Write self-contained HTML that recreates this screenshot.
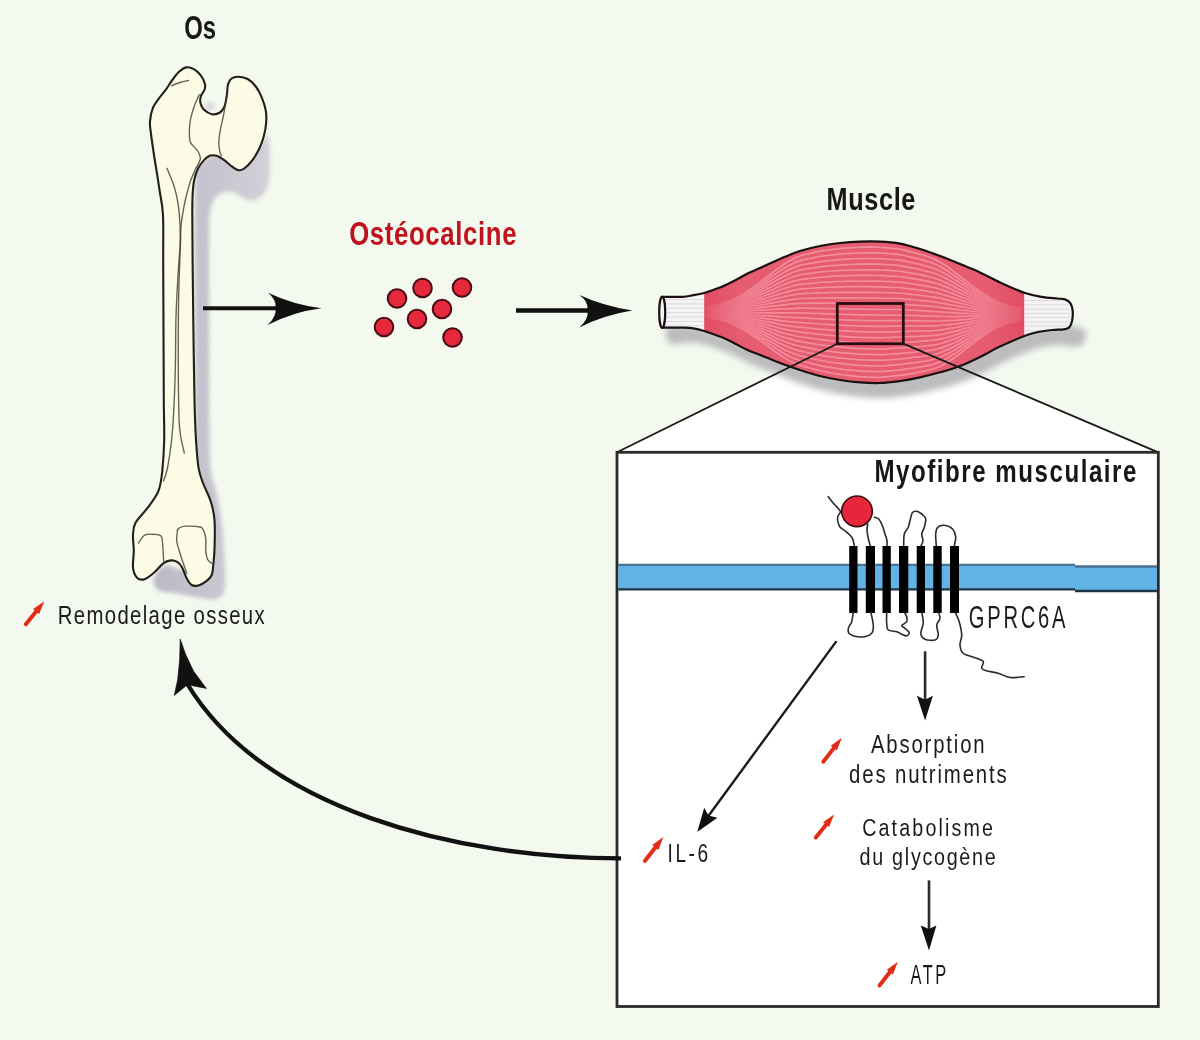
<!DOCTYPE html>
<html><head><meta charset="utf-8"><style>
html,body{margin:0;padding:0;background:#f3f9ee;}
svg{display:block;}
text{font-family:"Liberation Sans",sans-serif;}
</style></head><body>
<svg width="1200" height="1040" viewBox="0 0 1200 1040">
<rect width="1200" height="1040" fill="#f3f9ee"/>
<defs><filter id="blur2" x="-20%" y="-20%" width="140%" height="140%"><feGaussianBlur stdDeviation="2.2"/></filter><filter id="blur3" x="-20%" y="-50%" width="140%" height="200%"><feGaussianBlur stdDeviation="3"/></filter></defs>
<linearGradient id="shg" x1="0" x2="1" y1="0" y2="0"><stop offset="0" stop-color="#bcb9c6"/><stop offset="1" stop-color="#d2d0d8"/></linearGradient>
<path d="M222,152 C230.3,149.5 243.3,151.7 250,150 C256.7,148.3 259,144.7 262,142 C265,139.3 266.8,133.5 268,134 C269.2,134.5 269.2,140.3 269.5,145 C269.8,149.7 269.8,156.2 269.8,162 C269.8,167.8 269.9,175.3 269.3,180 C268.7,184.7 267.4,187.2 266,190 C264.6,192.8 263,194.8 261,196.5 C259,198.2 256.5,200 254,200.5 C251.5,201 248.7,200.5 246,199.5 C243.3,198.5 240.8,195.8 238,194.5 C235.2,193.2 232,191.6 229,191.5 C226,191.4 222.7,192.2 220,194 C217.3,195.8 214.8,198.2 213,202 C211.2,205.8 210.2,210.7 209.5,217 C208.8,223.3 209.1,226.2 209,240 C208.9,253.8 208.9,268.3 209,300 C209.1,331.7 209.2,401.7 209.5,430 C209.8,458.3 209.8,459.2 211,470 C212.2,480.8 215.2,485.8 217,495 C218.8,504.2 220.8,514.2 222,525 C223.2,535.8 224.1,549.2 224.5,560 C224.9,570.8 225.9,583.5 224.5,590 C223.1,596.5 220.1,597.7 216,599 C211.9,600.3 206.8,599 200,598 C193.2,597 182,594.3 175,593 C168,591.7 161.5,592.5 158,590 C154.5,587.5 152.8,582.2 154,578 C155.2,573.8 159,568 165,565 C171,562 185,580.8 190,560 C195,539.2 194.2,500 195,440 C195.8,380 194.2,245.8 195,200 C195.8,154.2 195.5,173 200,165 C204.5,157 213.7,154.5 222,152 Z" fill="url(#shg)" filter="url(#blur2)"/>
<ellipse cx="209.5" cy="106" rx="5" ry="4" fill="#d6d4dc" filter="url(#blur2)"/>
<path d="M186.2,67.4 C188.8,66.9 191.4,67.9 193.8,69.2 C196.2,70.5 198.9,72.9 200.8,75.4 C202.7,77.9 204.4,81.8 205,84.2 C205.6,86.6 205.1,88.1 204.4,90 C203.7,91.9 201.7,93.7 201,95.8 C200.3,97.9 199.9,100.4 200.4,102.7 C200.9,105 201.9,107.7 203.8,109.6 C205.7,111.5 209.2,113.7 211.9,114.2 C214.6,114.7 217.9,113.8 220,112.5 C222.1,111.2 223.4,109.2 224.6,106.2 C225.8,103.2 226.3,98.3 226.9,94.6 C227.5,90.9 227.2,86.9 228,84.2 C228.8,81.5 229.8,79.8 231.5,78.5 C233.2,77.2 235.8,76.6 238.5,76.7 C241.2,76.8 244.8,77.4 247.7,79 C250.6,80.6 253.5,83.5 255.8,86.5 C258.1,89.5 259.9,93.1 261.5,96.9 C263.1,100.8 264.8,105.4 265.6,109.6 C266.4,113.8 266.5,117.9 266.2,122.3 C265.9,126.7 265,131.8 263.8,136.2 C262.6,140.6 261.1,144.8 259.2,148.8 C257.3,152.8 254.8,157.1 252.3,160.4 C249.8,163.7 246.5,166.9 244.2,168.5 C241.9,170.1 240.6,170.6 238.5,170.2 C236.4,169.8 233.8,167.8 231.5,166.2 C229.2,164.6 227.1,162.1 224.6,160.4 C222.1,158.7 219,156.6 216.5,155.8 C214,155 211.7,155 209.6,155.8 C207.5,156.6 205.7,158.3 203.8,160.4 C201.9,162.5 199.6,165.2 198,168.5 C196.4,171.8 195.1,175.6 194.2,180 C193.3,184.4 192.9,189.2 192.6,195 C192.3,200.8 192.3,204.2 192.3,215 C192.3,225.8 192.4,240.8 192.6,260 C192.8,279.2 193.1,306.7 193.4,330 C193.7,353.3 194.1,381.7 194.5,400 C194.9,418.3 195.3,428.7 196,440 C196.7,451.3 197.3,460.5 198.5,467.7 C199.7,474.9 200.9,477.4 203,483 C205.1,488.6 208.9,495.3 210.8,501.5 C212.7,507.7 213.9,512.5 214.5,520 C215.1,527.5 214.8,539.2 214.6,546.7 C214.4,554.2 213.8,560.3 213.3,565 C212.8,569.7 212.8,572.4 211.7,575 C210.6,577.6 208.9,579.1 206.7,580.8 C204.5,582.5 200.8,584.7 198.3,585.4 C195.8,586.1 193.6,586.2 191.7,585 C189.8,583.8 188.4,581.3 186.7,578.3 C185,575.2 183.4,569.5 181.7,566.7 C180,563.9 178.5,562.8 176.7,561.7 C174.9,560.7 173,560.1 170.8,560.4 C168.6,560.7 166.1,561.3 163.3,563.3 C160.5,565.3 157.3,569.9 154.2,572.5 C151.1,575.1 147.5,578.3 144.6,579.2 C141.7,580.1 138.9,579.6 137,577.7 C135.1,575.8 133.5,572.2 133,567.7 C132.5,563.2 133.8,556.2 133.8,550.8 C133.8,545.4 132.7,540 133,535.4 C133.3,530.8 133,527.6 135.4,523 C137.8,518.4 143.8,513.1 147.7,507.7 C151.5,502.3 156.1,496.9 158.5,490.8 C160.9,484.7 161.4,479.3 162.3,470.8 C163.2,462.3 163.9,451.8 164.2,440 C164.4,428.2 163.9,418.3 163.8,400 C163.7,381.7 163.6,353.3 163.5,330 C163.4,306.7 163.3,279.2 163.2,260 C163.1,240.8 163.6,226.7 163,215 C162.4,203.3 160.4,196.2 159.5,190 C158.6,183.8 158.6,183.8 157.7,178 C156.8,172.2 155.1,162.3 154,155 C152.9,147.7 151.7,139.6 151,134 C150.3,128.4 149.7,125.9 150,121.5 C150.3,117.1 151.3,111.8 153,107.7 C154.7,103.6 157.8,100.1 160,97 C162.2,93.9 164.1,92 166.2,89.2 C168.2,86.4 170.2,82.8 172.3,80 C174.4,77.2 176.2,74.4 178.5,72.3 C180.8,70.2 183.6,67.9 186.2,67.4 Z" fill="#fbfbe6" stroke="#222018" stroke-width="2.1" stroke-linejoin="round"/>
<path d="M171.5,85.8 C172.9,85.2 177.2,83.4 180,82.5 C182.8,81.6 187.1,80.8 188.5,80.5" fill="none" stroke="#3c3b2e" stroke-width="1.35" stroke-linecap="round" opacity="0.8"/>
<path d="M199.2,94.6 C198.2,96.9 195,103.9 193.5,108.5 C192,113.1 190.6,116.9 190,122.3 C189.4,127.7 189.2,136.8 190,141 C190.8,145.2 193.1,145.3 194.6,147.3 C196.1,149.3 197.9,150.9 198.8,153 C199.7,155.1 200.8,156.9 200.2,159.6 C199.6,162.3 197,165.7 195.4,169.2 C193.8,172.7 192.2,176 190.6,180.8 C189,185.6 187.1,192.7 185.8,198 C184.5,203.3 183.7,207.7 182.9,212.5 C182.1,217.3 181.4,221.4 181,227 C180.6,232.6 180.6,240.3 180.4,246 C180.2,251.7 180.1,251.8 179.8,261 C179.5,270.2 178.8,282.8 178.6,301 C178.3,319.2 178.2,351.2 178.3,370 C178.4,388.8 178.6,403.3 178.9,414 C179.2,424.7 179.4,427.5 180.3,434 C181.2,440.5 183.6,449.8 184.3,453" fill="none" stroke="#3c3b2e" stroke-width="1.35" stroke-linecap="round" opacity="0.8"/>
<path d="M226.9,94.6 C226.3,98.1 224.7,109.2 223.5,115.4 C222.3,121.6 220.8,126.9 220,131.5 C219.2,136.1 218.8,139.5 218.8,143 C218.8,146.5 219.5,150.2 220,152.3 C220.5,154.4 221.4,155.2 221.7,155.8" fill="none" stroke="#3c3b2e" stroke-width="1.35" stroke-linecap="round" opacity="0.8"/>
<path d="M167,168.3 C168.2,171.3 172.3,180.6 174.2,186.5 C176,192.4 177.1,197.7 178.1,203.8 C179.1,209.9 179.6,216 179.9,223 C180.2,230 180.3,239.7 180.1,246 C179.9,252.3 179.4,253.7 178.9,261 C178.4,268.3 177.7,280.2 177.2,290 C176.7,299.8 176.2,306.7 175.9,320 C175.6,333.3 175.7,354.3 175.3,370 C174.9,385.7 174.2,402.2 173.6,414 C173,425.8 172.5,432 171.5,441 C170.5,450 168.8,461.3 167.5,468 C166.2,474.7 164.2,478.8 163.5,481" fill="none" stroke="#3c3b2e" stroke-width="1.35" stroke-linecap="round" opacity="0.8"/>
<path d="M138.5,543 C139.4,541.8 141.9,537 144.2,535.5 C146.5,534 149.7,534.2 152.5,534.2 C155.3,534.2 159.1,534.4 160.8,535.8 C162.5,537.2 162.1,539.3 162.5,542.5 C162.9,545.7 163.1,551.8 163.3,555 C163.5,558.2 163.7,560.6 163.8,561.7" fill="none" stroke="#3c3b2e" stroke-width="1.35" stroke-linecap="round" opacity="0.8"/>
<path d="M177.5,530 C177.9,529.6 178.6,528.1 180,527.5 C181.4,526.9 182.9,526.3 186.2,526.2 C189.5,526.1 197.2,526.4 200,527 C202.8,527.6 202.3,528.1 203.3,530 C204.3,531.9 205.4,534.8 205.8,538.3 C206.2,541.8 205.5,547.3 205.8,550.8 C206.1,554.3 206.5,557.1 207.5,559.2 C208.5,561.3 211,562.6 211.7,563.3" fill="none" stroke="#3c3b2e" stroke-width="1.35" stroke-linecap="round" opacity="0.8"/>
<path d="M177.5,530 C177.4,531.8 176.3,536.9 176.7,540.8 C177.1,544.7 178.9,549.5 180,553.3 C181.1,557 182.2,560 183.3,563.3 C184.4,566.6 186.1,571.6 186.7,573.3" fill="none" stroke="#3c3b2e" stroke-width="1.35" stroke-linecap="round" opacity="0.8"/>
<line x1="203" y1="308.3" x2="276" y2="308.3" stroke="#111" stroke-width="4"/>
<path d="M321.5,308.2 Q293,304.6 268,292.7 Q277,300 275.5,308.2 Q277,316 267.6,325 Q293,311.8 321.5,308.2Z" fill="#111"/>
<line x1="516" y1="310.6" x2="588" y2="310.6" stroke="#111" stroke-width="4.5"/>
<path d="M632.5,310.6 Q604,306.2 579.4,295 Q589,302 587.5,310.6 Q589,319 579.4,327.5 Q604,315 632.5,310.6Z" fill="#111"/>
<circle cx="397" cy="298.5" r="9.3" fill="#e6283c" stroke="#4a0a12" stroke-width="2"/>
<circle cx="422.5" cy="288" r="9.3" fill="#e6283c" stroke="#4a0a12" stroke-width="2"/>
<circle cx="462" cy="287.5" r="9.3" fill="#e6283c" stroke="#4a0a12" stroke-width="2"/>
<circle cx="442" cy="309" r="9.3" fill="#e6283c" stroke="#4a0a12" stroke-width="2"/>
<circle cx="417" cy="319" r="9.3" fill="#e6283c" stroke="#4a0a12" stroke-width="2"/>
<circle cx="384" cy="327" r="9.3" fill="#e6283c" stroke="#4a0a12" stroke-width="2"/>
<circle cx="452.5" cy="337.5" r="9.3" fill="#e6283c" stroke="#4a0a12" stroke-width="2"/>
<path d="M837.3,343.7 L903.3,343.7 L1158.3,452.3 L617,452.3 Z" fill="#ffffff"/>
<path d="M1086,336 C1085.3,338.7 1084.8,344.5 1080,346 C1075.2,347.5 1063.2,344.8 1057,345 C1050.8,345.2 1047.5,346 1043,347 C1038.5,348 1036.3,348.4 1030,350.8 C1023.7,353.2 1012.5,358 1005,361.5 C997.5,365 991.7,368.8 985,372 C978.3,375.2 971.7,378.4 965,381 C958.3,383.6 951.7,385.4 945,387.3 C938.3,389.2 931.7,390.9 925,392.3 C918.3,393.8 911.7,395.1 905,396 C898.3,396.9 891.7,397.8 885,398 C878.3,398.2 871.7,397.9 865,397.4 C858.3,396.9 851.7,396.1 845,395 C838.3,393.9 831.7,392.7 825,391 C818.3,389.3 811.7,387.2 805,385 C798.3,382.8 790.1,379.9 785,378 C779.9,376.1 777.8,375.1 774.2,373.6 C770.6,372.2 766.9,370.7 763.3,369.3 C759.7,367.9 756.1,366.6 752.5,365 C748.9,363.4 745.3,361.3 741.7,359.5 C738.1,357.7 734.4,355.7 730.8,354.1 C727.2,352.5 723.6,351.2 720,349.8 C716.4,348.4 712.8,347.1 709.2,346 C705.6,344.9 701.9,343.9 698.3,343.3 C694.7,342.8 691.9,342.6 687.5,342.7 C683.1,342.8 675.6,345.1 672,344 C668.4,342.9 666.3,339 666,336 C665.7,333 664.3,327.3 670,326 C675.7,324.7 685,324 700,328 C715,332 733.3,341.7 760,350 C786.7,358.3 826.7,376.3 860,378 C893.3,379.7 932.5,367.7 960,360 C987.5,352.3 1006.7,337.7 1025,332 C1043.3,326.3 1060.2,326.3 1070,326 C1079.8,325.7 1081.3,328.3 1084,330 C1086.7,331.7 1086.7,333.3 1086,336 Z" fill="#bcbcbf" filter="url(#blur3)"/>
<clipPath id="mclip"><path d="M662,296.8 C665.4,296.8 677.3,297.1 682.5,296.8 C687.7,296.5 689.7,295.8 693.3,295.2 C696.9,294.6 700.6,294 704.2,293 C707.8,292 711.4,290.7 715,289.3 C718.6,287.9 722.2,286.5 725.8,284.9 C729.4,283.3 733.1,281.4 736.7,279.5 C740.3,277.6 743.6,275.4 747.5,273.5 C751.4,271.6 754.6,270.4 760,268 C765.4,265.6 773.3,261.8 780,259 C786.7,256.2 793.3,253.2 800,251 C806.7,248.8 813.3,247.3 820,246 C826.7,244.7 833.3,243.7 840,243 C846.7,242.3 853.3,241.8 860,241.6 C866.7,241.4 873.3,241.3 880,241.6 C886.7,241.9 893.3,242.4 900,243.6 C906.7,244.8 913.3,246.9 920,249 C926.7,251.1 933.3,253.5 940,256 C946.7,258.5 953.3,261.2 960,264 C966.7,266.8 972.8,269.2 980,272.5 C987.2,275.8 995.8,280.6 1003.3,284 C1010.8,287.4 1018.7,290.9 1025,293 C1031.3,295.1 1035.9,295.9 1041.3,296.8 C1046.7,297.7 1053.5,298.1 1057.5,298.5 C1061.5,298.9 1062.8,298.6 1065,299.4 C1067.2,300.2 1069.2,301.4 1070.5,303.3 C1071.8,305.2 1072.4,308.1 1072.7,311 C1073,313.9 1072.6,318 1072.1,320.7 C1071.5,323.4 1070.8,325.8 1069.4,327.2 C1068.1,328.6 1066.9,328.8 1064,329.3 C1061.1,329.8 1056.3,329.6 1052,330 C1047.7,330.4 1042.5,331 1038,332 C1033.5,333 1031.3,333.4 1025,335.8 C1018.7,338.2 1007.5,343 1000,346.5 C992.5,350 986.7,353.8 980,357 C973.3,360.2 966.7,363.4 960,366 C953.3,368.6 946.7,370.4 940,372.3 C933.3,374.2 926.7,375.9 920,377.3 C913.3,378.8 906.7,380.1 900,381 C893.3,381.9 886.7,382.8 880,383 C873.3,383.2 866.7,382.9 860,382.4 C853.3,381.9 846.7,381.1 840,380 C833.3,378.9 826.7,377.7 820,376 C813.3,374.3 806.7,372.2 800,370 C793.3,367.8 785.1,364.9 780,363 C774.9,361.1 772.8,360.1 769.2,358.6 C765.6,357.2 761.9,355.7 758.3,354.3 C754.7,352.9 751.1,351.6 747.5,350 C743.9,348.4 740.3,346.3 736.7,344.5 C733.1,342.7 729.4,340.7 725.8,339.1 C722.2,337.5 718.6,336.2 715,334.8 C711.4,333.4 707.8,332.1 704.2,331 C700.6,329.9 696.9,328.9 693.3,328.3 C689.7,327.8 687.7,327.8 682.5,327.7 C677.3,327.6 665.4,327.7 662,327.7 Z"/></clipPath>
<path d="M662,296.8 C665.4,296.8 677.3,297.1 682.5,296.8 C687.7,296.5 689.7,295.8 693.3,295.2 C696.9,294.6 700.6,294 704.2,293 C707.8,292 711.4,290.7 715,289.3 C718.6,287.9 722.2,286.5 725.8,284.9 C729.4,283.3 733.1,281.4 736.7,279.5 C740.3,277.6 743.6,275.4 747.5,273.5 C751.4,271.6 754.6,270.4 760,268 C765.4,265.6 773.3,261.8 780,259 C786.7,256.2 793.3,253.2 800,251 C806.7,248.8 813.3,247.3 820,246 C826.7,244.7 833.3,243.7 840,243 C846.7,242.3 853.3,241.8 860,241.6 C866.7,241.4 873.3,241.3 880,241.6 C886.7,241.9 893.3,242.4 900,243.6 C906.7,244.8 913.3,246.9 920,249 C926.7,251.1 933.3,253.5 940,256 C946.7,258.5 953.3,261.2 960,264 C966.7,266.8 972.8,269.2 980,272.5 C987.2,275.8 995.8,280.6 1003.3,284 C1010.8,287.4 1018.7,290.9 1025,293 C1031.3,295.1 1035.9,295.9 1041.3,296.8 C1046.7,297.7 1053.5,298.1 1057.5,298.5 C1061.5,298.9 1062.8,298.6 1065,299.4 C1067.2,300.2 1069.2,301.4 1070.5,303.3 C1071.8,305.2 1072.4,308.1 1072.7,311 C1073,313.9 1072.6,318 1072.1,320.7 C1071.5,323.4 1070.8,325.8 1069.4,327.2 C1068.1,328.6 1066.9,328.8 1064,329.3 C1061.1,329.8 1056.3,329.6 1052,330 C1047.7,330.4 1042.5,331 1038,332 C1033.5,333 1031.3,333.4 1025,335.8 C1018.7,338.2 1007.5,343 1000,346.5 C992.5,350 986.7,353.8 980,357 C973.3,360.2 966.7,363.4 960,366 C953.3,368.6 946.7,370.4 940,372.3 C933.3,374.2 926.7,375.9 920,377.3 C913.3,378.8 906.7,380.1 900,381 C893.3,381.9 886.7,382.8 880,383 C873.3,383.2 866.7,382.9 860,382.4 C853.3,381.9 846.7,381.1 840,380 C833.3,378.9 826.7,377.7 820,376 C813.3,374.3 806.7,372.2 800,370 C793.3,367.8 785.1,364.9 780,363 C774.9,361.1 772.8,360.1 769.2,358.6 C765.6,357.2 761.9,355.7 758.3,354.3 C754.7,352.9 751.1,351.6 747.5,350 C743.9,348.4 740.3,346.3 736.7,344.5 C733.1,342.7 729.4,340.7 725.8,339.1 C722.2,337.5 718.6,336.2 715,334.8 C711.4,333.4 707.8,332.1 704.2,331 C700.6,329.9 696.9,328.9 693.3,328.3 C689.7,327.8 687.7,327.8 682.5,327.7 C677.3,327.6 665.4,327.7 662,327.7 Z" fill="#f3f2f5"/>
<g clip-path="url(#mclip)"><line x1="664" y1="299.5" x2="705" y2="299.5" stroke="#dad8de" stroke-width="0.9"/><line x1="664" y1="303.9" x2="705" y2="303.9" stroke="#dad8de" stroke-width="0.9"/><line x1="664" y1="308.3" x2="705" y2="308.3" stroke="#dad8de" stroke-width="0.9"/><line x1="664" y1="312.7" x2="705" y2="312.7" stroke="#dad8de" stroke-width="0.9"/><line x1="664" y1="317.1" x2="705" y2="317.1" stroke="#dad8de" stroke-width="0.9"/><line x1="664" y1="321.5" x2="705" y2="321.5" stroke="#dad8de" stroke-width="0.9"/><line x1="664" y1="325.9" x2="705" y2="325.9" stroke="#dad8de" stroke-width="0.9"/><line x1="1024" y1="300.5" x2="1070" y2="300.5" stroke="#dad8de" stroke-width="0.9"/><line x1="1024" y1="304.8" x2="1070" y2="304.8" stroke="#dad8de" stroke-width="0.9"/><line x1="1024" y1="309.1" x2="1070" y2="309.1" stroke="#dad8de" stroke-width="0.9"/><line x1="1024" y1="313.4" x2="1070" y2="313.4" stroke="#dad8de" stroke-width="0.9"/><line x1="1024" y1="317.7" x2="1070" y2="317.7" stroke="#dad8de" stroke-width="0.9"/><line x1="1024" y1="322.0" x2="1070" y2="322.0" stroke="#dad8de" stroke-width="0.9"/><line x1="1024" y1="326.3" x2="1070" y2="326.3" stroke="#dad8de" stroke-width="0.9"/><line x1="1024" y1="330.6" x2="1070" y2="330.6" stroke="#dad8de" stroke-width="0.9"/><path d="M704.2,280 L1024,280 Q1020,314 1024,345 L704.2,345 Q707,314 704.2,280Z" fill="#e35a6c"/><linearGradient id="mg" x1="704" x2="1024" y1="0" y2="0" gradientUnits="userSpaceOnUse"><stop offset="0" stop-color="#e24c64"/><stop offset="0.12" stop-color="#e65d72"/><stop offset="0.88" stop-color="#e65d72"/><stop offset="1" stop-color="#e24c64"/></linearGradient><rect x="704.2" y="230" width="320" height="160" fill="url(#mg)"/><linearGradient id="fadeg" x1="704" x2="1024" y1="0" y2="0" gradientUnits="userSpaceOnUse"><stop offset="0" stop-color="#fff" stop-opacity="0.15"/><stop offset="0.2" stop-color="#fff" stop-opacity="1"/><stop offset="0.8" stop-color="#fff" stop-opacity="1"/><stop offset="1" stop-color="#fff" stop-opacity="0.15"/></linearGradient><mask id="fadem" maskUnits="userSpaceOnUse" x="690" y="230" width="350" height="170"><rect x="690" y="230" width="350" height="170" fill="url(#fadeg)"/></mask><g fill="none" stroke="#f5929f" stroke-width="1.7" opacity="0.9" mask="url(#fadem)"><path d="M706,306.6 C707,306.5 710,306.2 712,305.9 C714,305.6 716,305.2 718,304.7 C720,304.3 722,303.7 724,303.1 C726,302.5 728,301.7 730,300.9 C732,300.1 734,299.2 736,298.1 C738,297.1 740,295.9 742,294.7 C744,293.4 746,292 748,290.7 C750,289.4 752,288.1 754,286.7 C756,285.3 758,283.9 760,282.4 C762,280.9 764,279.3 766,277.8 C768,276.3 770,274.7 772,273.2 C774,271.6 776,270 778,268.6 C780,267.1 782,265.7 784,264.3 C786,263 788,261.7 790,260.6 C792,259.4 794,258.3 796,257.4 C798,256.6 800,255.9 802,255.3 C804,254.7 806,254.4 808,253.9 C810,253.5 812,253 814,252.6 C816,252.1 818,251.6 820,251.2 C822,250.8 824,250.7 826,250.4 C828,250.1 830,249.8 832,249.6 C834,249.3 836,249 838,248.8 C840,248.5 842,248.4 844,248.2 C846,248.1 848,248 850,247.9 C852,247.7 854,247.6 856,247.5 C858,247.4 860,247.3 862,247.2 C864,247.2 866,247.2 868,247.2 C870,247.2 872,247.2 874,247.2 C876,247.3 878,247.2 880,247.3 C882,247.3 884,247.6 886,247.8 C888,248 890,248.2 892,248.4 C894,248.5 896,248.6 898,248.9 C900,249.2 902,249.7 904,250.1 C906,250.6 908,251.1 910,251.6 C912,252.1 914,252.6 916,253.1 C918,253.7 920,254.2 922,254.8 C924,255.4 926,256.1 928,256.7 C930,257.4 932,258.1 934,258.9 C936,259.8 938,260.7 940,261.9 C942,263 944,264.4 946,265.8 C948,267.1 950,268.6 952,270.1 C954,271.6 956,273.2 958,274.7 C960,276.3 962,277.9 964,279.4 C966,281 968,282.6 970,284.1 C972,285.6 974,287.1 976,288.5 C978,289.9 980,291.3 982,292.6 C984,294 986,295.3 988,296.5 C990,297.7 992,298.8 994,299.8 C996,300.8 998,301.8 1000,302.6 C1002,303.5 1004,304.2 1006,304.9 C1008,305.5 1010,306 1012,306.5 C1014,307 1016.3,307.4 1018,307.6 C1019.7,307.9 1021.3,308.1 1022,308.2"/><path d="M706,307.1 C707,307 710,306.7 712,306.4 C714,306.1 716,305.8 718,305.4 C720,304.9 722,304.5 724,303.9 C726,303.3 728,302.6 730,301.9 C732,301.1 734,300.3 736,299.3 C738,298.4 740,297.3 742,296.2 C744,295 746,293.8 748,292.5 C750,291.3 752,290.1 754,288.9 C756,287.6 758,286.3 760,284.9 C762,283.6 764,282.1 766,280.7 C768,279.3 770,277.9 772,276.5 C774,275.1 776,273.6 778,272.3 C780,270.9 782,269.6 784,268.4 C786,267.2 788,266 790,265 C792,263.9 794,262.9 796,262.1 C798,261.3 800,260.6 802,260.1 C804,259.6 806,259.3 808,258.9 C810,258.5 812,258 814,257.6 C816,257.2 818,256.7 820,256.4 C822,256.1 824,255.9 826,255.7 C828,255.4 830,255.2 832,254.9 C834,254.7 836,254.4 838,254.2 C840,254 842,253.9 844,253.7 C846,253.6 848,253.5 850,253.4 C852,253.3 854,253.2 856,253.1 C858,253 860,252.9 862,252.9 C864,252.8 866,252.9 868,252.9 C870,252.9 872,252.9 874,252.9 C876,252.9 878,252.8 880,252.9 C882,253 884,253.2 886,253.4 C888,253.6 890,253.8 892,253.9 C894,254.1 896,254.2 898,254.4 C900,254.7 902,255.1 904,255.5 C906,255.9 908,256.5 910,256.9 C912,257.4 914,257.8 916,258.3 C918,258.8 920,259.3 922,259.9 C924,260.4 926,261 928,261.7 C930,262.3 932,262.9 934,263.7 C936,264.5 938,265.4 940,266.4 C942,267.5 944,268.7 946,270 C948,271.3 950,272.6 952,274 C954,275.4 956,276.8 958,278.2 C960,279.6 962,281.1 964,282.5 C966,283.9 968,285.4 970,286.8 C972,288.1 974,289.5 976,290.8 C978,292.1 980,293.3 982,294.6 C984,295.8 986,297 988,298.1 C990,299.2 992,300.2 994,301.1 C996,302 998,302.9 1000,303.6 C1002,304.4 1004,305.1 1006,305.7 C1008,306.3 1010,306.8 1012,307.2 C1014,307.6 1016.3,308 1018,308.2 C1019.7,308.5 1021.3,308.6 1022,308.7"/><path d="M706,307.5 C707,307.4 710,307.2 712,307 C714,306.7 716,306.4 718,306 C720,305.6 722,305.2 724,304.6 C726,304.1 728,303.5 730,302.8 C732,302.1 734,301.4 736,300.6 C738,299.7 740,298.7 742,297.7 C744,296.6 746,295.5 748,294.4 C750,293.3 752,292.2 754,291 C756,289.9 758,288.7 760,287.4 C762,286.2 764,284.9 766,283.6 C768,282.4 770,281.1 772,279.8 C774,278.5 776,277.2 778,275.9 C780,274.7 782,273.5 784,272.4 C786,271.3 788,270.3 790,269.3 C792,268.4 794,267.4 796,266.7 C798,265.9 800,265.4 802,264.9 C804,264.4 806,264.2 808,263.8 C810,263.4 812,263.1 814,262.7 C816,262.3 818,261.9 820,261.6 C822,261.3 824,261.2 826,261 C828,260.7 830,260.5 832,260.3 C834,260.1 836,259.8 838,259.7 C840,259.5 842,259.4 844,259.3 C846,259.1 848,259.1 850,259 C852,258.9 854,258.8 856,258.7 C858,258.6 860,258.5 862,258.5 C864,258.5 866,258.5 868,258.5 C870,258.5 872,258.5 874,258.5 C876,258.6 878,258.5 880,258.6 C882,258.6 884,258.9 886,259 C888,259.2 890,259.3 892,259.5 C894,259.6 896,259.7 898,259.9 C900,260.2 902,260.6 904,260.9 C906,261.3 908,261.8 910,262.2 C912,262.7 914,263.1 916,263.5 C918,264 920,264.4 922,265 C924,265.5 926,266 928,266.6 C930,267.2 932,267.7 934,268.5 C936,269.2 938,270 940,271 C942,271.9 944,273.1 946,274.2 C948,275.4 950,276.6 952,277.9 C954,279.1 956,280.4 958,281.7 C960,283 962,284.3 964,285.6 C966,286.9 968,288.2 970,289.4 C972,290.7 974,291.9 976,293.1 C978,294.2 980,295.4 982,296.5 C984,297.6 986,298.7 988,299.6 C990,300.6 992,301.5 994,302.4 C996,303.2 998,304 1000,304.7 C1002,305.4 1004,306 1006,306.6 C1008,307.1 1010,307.5 1012,307.9 C1014,308.3 1016.3,308.6 1018,308.8 C1019.7,309.1 1021.3,309.2 1022,309.3"/><path d="M706,308 C707,307.9 710,307.7 712,307.5 C714,307.3 716,307 718,306.6 C720,306.3 722,305.9 724,305.4 C726,304.9 728,304.4 730,303.8 C732,303.2 734,302.5 736,301.8 C738,301 740,300.1 742,299.2 C744,298.2 746,297.2 748,296.2 C750,295.2 752,294.2 754,293.2 C756,292.2 758,291.1 760,290 C762,288.9 764,287.7 766,286.6 C768,285.4 770,284.2 772,283.1 C774,281.9 776,280.7 778,279.6 C780,278.5 782,277.5 784,276.5 C786,275.5 788,274.5 790,273.7 C792,272.8 794,272 796,271.3 C798,270.6 800,270.1 802,269.7 C804,269.3 806,269.1 808,268.7 C810,268.4 812,268.1 814,267.8 C816,267.4 818,267.1 820,266.8 C822,266.5 824,266.4 826,266.2 C828,266 830,265.9 832,265.7 C834,265.5 836,265.3 838,265.1 C840,265 842,264.9 844,264.8 C846,264.7 848,264.6 850,264.5 C852,264.4 854,264.4 856,264.3 C858,264.2 860,264.2 862,264.1 C864,264.1 866,264.2 868,264.2 C870,264.2 872,264.2 874,264.2 C876,264.2 878,264.2 880,264.2 C882,264.3 884,264.5 886,264.6 C888,264.8 890,264.9 892,265 C894,265.2 896,265.2 898,265.4 C900,265.7 902,266 904,266.4 C906,266.7 908,267.2 910,267.6 C912,268 914,268.3 916,268.7 C918,269.2 920,269.6 922,270 C924,270.5 926,271 928,271.6 C930,272.1 932,272.6 934,273.2 C936,273.9 938,274.6 940,275.5 C942,276.4 944,277.4 946,278.5 C948,279.5 950,280.6 952,281.7 C954,282.9 956,284 958,285.2 C960,286.4 962,287.5 964,288.7 C966,289.8 968,291 970,292.1 C972,293.2 974,294.3 976,295.4 C978,296.4 980,297.4 982,298.4 C984,299.4 986,300.3 988,301.2 C990,302.1 992,302.9 994,303.7 C996,304.4 998,305.1 1000,305.7 C1002,306.3 1004,306.9 1006,307.4 C1008,307.9 1010,308.2 1012,308.6 C1014,308.9 1016.3,309.2 1018,309.4 C1019.7,309.6 1021.3,309.7 1022,309.8"/><path d="M706,308.5 C707,308.4 710,308.2 712,308 C714,307.8 716,307.6 718,307.3 C720,307 722,306.6 724,306.2 C726,305.8 728,305.3 730,304.8 C732,304.2 734,303.6 736,303 C738,302.3 740,301.5 742,300.7 C744,299.8 746,298.9 748,298 C750,297.1 752,296.3 754,295.4 C756,294.4 758,293.5 760,292.5 C762,291.5 764,290.5 766,289.5 C768,288.4 770,287.4 772,286.4 C774,285.4 776,284.3 778,283.3 C780,282.4 782,281.4 784,280.5 C786,279.6 788,278.8 790,278 C792,277.3 794,276.5 796,275.9 C798,275.3 800,274.9 802,274.5 C804,274.1 806,274 808,273.7 C810,273.4 812,273.1 814,272.8 C816,272.6 818,272.2 820,272 C822,271.8 824,271.7 826,271.5 C828,271.4 830,271.2 832,271 C834,270.9 836,270.7 838,270.6 C840,270.4 842,270.4 844,270.3 C846,270.2 848,270.1 850,270.1 C852,270 854,269.9 856,269.9 C858,269.8 860,269.8 862,269.8 C864,269.8 866,269.8 868,269.8 C870,269.8 872,269.8 874,269.8 C876,269.9 878,269.8 880,269.9 C882,269.9 884,270.1 886,270.2 C888,270.4 890,270.5 892,270.6 C894,270.7 896,270.8 898,271 C900,271.2 902,271.5 904,271.8 C906,272.1 908,272.5 910,272.9 C912,273.2 914,273.6 916,273.9 C918,274.3 920,274.7 922,275.1 C924,275.5 926,276 928,276.5 C930,277 932,277.4 934,278 C936,278.6 938,279.3 940,280.1 C942,280.8 944,281.8 946,282.7 C948,283.6 950,284.6 952,285.6 C954,286.6 956,287.7 958,288.7 C960,289.7 962,290.8 964,291.8 C966,292.8 968,293.8 970,294.8 C972,295.8 974,296.7 976,297.6 C978,298.6 980,299.5 982,300.3 C984,301.2 986,302 988,302.8 C990,303.6 992,304.3 994,304.9 C996,305.6 998,306.2 1000,306.7 C1002,307.3 1004,307.8 1006,308.2 C1008,308.7 1010,309 1012,309.3 C1014,309.6 1016.3,309.8 1018,310 C1019.7,310.2 1021.3,310.3 1022,310.3"/><path d="M706,308.9 C707,308.9 710,308.7 712,308.6 C714,308.4 716,308.2 718,307.9 C720,307.6 722,307.3 724,307 C726,306.6 728,306.2 730,305.7 C732,305.3 734,304.8 736,304.2 C738,303.6 740,302.9 742,302.2 C744,301.4 746,300.6 748,299.9 C750,299.1 752,298.3 754,297.5 C756,296.7 758,295.9 760,295 C762,294.2 764,293.3 766,292.4 C768,291.5 770,290.6 772,289.7 C774,288.8 776,287.9 778,287 C780,286.2 782,285.4 784,284.6 C786,283.8 788,283.1 790,282.4 C792,281.7 794,281.1 796,280.6 C798,280 800,279.6 802,279.3 C804,279 806,278.9 808,278.6 C810,278.4 812,278.1 814,277.9 C816,277.7 818,277.4 820,277.2 C822,277 824,276.9 826,276.8 C828,276.7 830,276.5 832,276.4 C834,276.3 836,276.1 838,276 C840,275.9 842,275.8 844,275.8 C846,275.7 848,275.7 850,275.6 C852,275.6 854,275.5 856,275.5 C858,275.5 860,275.4 862,275.4 C864,275.4 866,275.4 868,275.4 C870,275.5 872,275.5 874,275.5 C876,275.5 878,275.5 880,275.5 C882,275.6 884,275.7 886,275.8 C888,276 890,276.1 892,276.2 C894,276.3 896,276.3 898,276.5 C900,276.6 902,276.9 904,277.2 C906,277.5 908,277.9 910,278.2 C912,278.5 914,278.8 916,279.1 C918,279.5 920,279.8 922,280.2 C924,280.6 926,281 928,281.4 C930,281.9 932,282.3 934,282.8 C936,283.3 938,283.9 940,284.6 C942,285.3 944,286.1 946,286.9 C948,287.7 950,288.6 952,289.5 C954,290.4 956,291.3 958,292.2 C960,293.1 962,294 964,294.9 C966,295.8 968,296.6 970,297.5 C972,298.3 974,299.1 976,299.9 C978,300.7 980,301.5 982,302.2 C984,303 986,303.7 988,304.4 C990,305 992,305.7 994,306.2 C996,306.8 998,307.3 1000,307.8 C1002,308.2 1004,308.7 1006,309.1 C1008,309.5 1010,309.7 1012,310 C1014,310.2 1016.3,310.4 1018,310.6 C1019.7,310.8 1021.3,310.8 1022,310.9"/><path d="M706,309.4 C707,309.4 710,309.2 712,309.1 C714,308.9 716,308.8 718,308.5 C720,308.3 722,308.1 724,307.7 C726,307.4 728,307.1 730,306.7 C732,306.3 734,305.9 736,305.4 C738,304.9 740,304.3 742,303.7 C744,303 746,302.3 748,301.7 C750,301 752,300.4 754,299.7 C756,299 758,298.3 760,297.6 C762,296.8 764,296.1 766,295.3 C768,294.5 770,293.8 772,293 C774,292.2 776,291.5 778,290.7 C780,290 782,289.3 784,288.6 C786,288 788,287.3 790,286.8 C792,286.2 794,285.6 796,285.2 C798,284.7 800,284.4 802,284.1 C804,283.9 806,283.7 808,283.6 C810,283.4 812,283.2 814,283 C816,282.8 818,282.5 820,282.4 C822,282.3 824,282.2 826,282.1 C828,282 830,281.9 832,281.8 C834,281.7 836,281.5 838,281.5 C840,281.4 842,281.3 844,281.3 C846,281.2 848,281.2 850,281.2 C852,281.2 854,281.1 856,281.1 C858,281.1 860,281 862,281 C864,281 866,281.1 868,281.1 C870,281.1 872,281.1 874,281.1 C876,281.2 878,281.1 880,281.2 C882,281.2 884,281.4 886,281.5 C888,281.5 890,281.6 892,281.7 C894,281.8 896,281.8 898,282 C900,282.1 902,282.4 904,282.6 C906,282.9 908,283.2 910,283.5 C912,283.8 914,284.1 916,284.4 C918,284.7 920,285 922,285.3 C924,285.6 926,286 928,286.4 C930,286.8 932,287.1 934,287.6 C936,288 938,288.6 940,289.2 C942,289.7 944,290.4 946,291.1 C948,291.8 950,292.6 952,293.4 C954,294.1 956,294.9 958,295.7 C960,296.5 962,297.2 964,298 C966,298.7 968,299.4 970,300.1 C972,300.9 974,301.5 976,302.2 C978,302.9 980,303.5 982,304.2 C984,304.8 986,305.4 988,306 C990,306.5 992,307 994,307.5 C996,308 998,308.4 1000,308.8 C1002,309.2 1004,309.6 1006,309.9 C1008,310.2 1010,310.5 1012,310.7 C1014,310.9 1016.3,311.1 1018,311.2 C1019.7,311.3 1021.3,311.4 1022,311.4"/><path d="M706,309.9 C707,309.8 710,309.7 712,309.6 C714,309.5 716,309.4 718,309.2 C720,309 722,308.8 724,308.5 C726,308.3 728,308 730,307.7 C732,307.3 734,307 736,306.6 C738,306.2 740,305.7 742,305.1 C744,304.6 746,304.1 748,303.5 C750,303 752,302.4 754,301.9 C756,301.3 758,300.7 760,300.1 C762,299.5 764,298.8 766,298.2 C768,297.6 770,296.9 772,296.3 C774,295.7 776,295 778,294.4 C780,293.8 782,293.2 784,292.7 C786,292.1 788,291.6 790,291.1 C792,290.6 794,290.2 796,289.8 C798,289.4 800,289.2 802,288.9 C804,288.7 806,288.6 808,288.5 C810,288.3 812,288.2 814,288 C816,287.9 818,287.7 820,287.6 C822,287.5 824,287.4 826,287.4 C828,287.3 830,287.2 832,287.1 C834,287.1 836,287 838,286.9 C840,286.9 842,286.8 844,286.8 C846,286.8 848,286.8 850,286.7 C852,286.7 854,286.7 856,286.7 C858,286.7 860,286.7 862,286.7 C864,286.7 866,286.7 868,286.7 C870,286.8 872,286.8 874,286.8 C876,286.8 878,286.8 880,286.8 C882,286.9 884,287 886,287.1 C888,287.1 890,287.2 892,287.3 C894,287.4 896,287.4 898,287.5 C900,287.6 902,287.8 904,288.1 C906,288.3 908,288.6 910,288.8 C912,289.1 914,289.3 916,289.6 C918,289.8 920,290.1 922,290.4 C924,290.7 926,291 928,291.3 C930,291.6 932,292 934,292.4 C936,292.7 938,293.2 940,293.7 C942,294.2 944,294.8 946,295.4 C948,296 950,296.6 952,297.2 C954,297.9 956,298.5 958,299.2 C960,299.8 962,300.4 964,301.1 C966,301.7 968,302.2 970,302.8 C972,303.4 974,304 976,304.5 C978,305 980,305.6 982,306.1 C984,306.6 986,307.1 988,307.5 C990,308 992,308.4 994,308.8 C996,309.2 998,309.5 1000,309.8 C1002,310.1 1004,310.5 1006,310.8 C1008,311 1010,311.2 1012,311.4 C1014,311.5 1016.3,311.7 1018,311.8 C1019.7,311.9 1021.3,311.9 1022,312"/><path d="M706,310.4 C707,310.3 710,310.3 712,310.2 C714,310.1 716,310 718,309.8 C720,309.7 722,309.5 724,309.3 C726,309.1 728,308.9 730,308.6 C732,308.4 734,308.1 736,307.8 C738,307.5 740,307 742,306.6 C744,306.2 746,305.8 748,305.3 C750,304.9 752,304.5 754,304 C756,303.6 758,303.1 760,302.6 C762,302.1 764,301.6 766,301.1 C768,300.6 770,300.1 772,299.6 C774,299.1 776,298.6 778,298.1 C780,297.6 782,297.2 784,296.7 C786,296.3 788,295.9 790,295.5 C792,295.1 794,294.7 796,294.4 C798,294.1 800,293.9 802,293.7 C804,293.6 806,293.5 808,293.4 C810,293.3 812,293.2 814,293.1 C816,293 818,292.9 820,292.8 C822,292.7 824,292.7 826,292.7 C828,292.6 830,292.6 832,292.5 C834,292.5 836,292.4 838,292.4 C840,292.3 842,292.3 844,292.3 C846,292.3 848,292.3 850,292.3 C852,292.3 854,292.3 856,292.3 C858,292.3 860,292.3 862,292.3 C864,292.3 866,292.4 868,292.4 C870,292.4 872,292.4 874,292.4 C876,292.5 878,292.5 880,292.5 C882,292.5 884,292.6 886,292.7 C888,292.7 890,292.8 892,292.8 C894,292.9 896,292.9 898,293 C900,293.1 902,293.3 904,293.5 C906,293.7 908,293.9 910,294.1 C912,294.3 914,294.5 916,294.8 C918,295 920,295.2 922,295.5 C924,295.7 926,296 928,296.3 C930,296.5 932,296.8 934,297.1 C936,297.5 938,297.8 940,298.2 C942,298.7 944,299.1 946,299.6 C948,300.1 950,300.6 952,301.1 C954,301.6 956,302.2 958,302.7 C960,303.2 962,303.7 964,304.1 C966,304.6 968,305.1 970,305.5 C972,305.9 974,306.4 976,306.8 C978,307.2 980,307.6 982,308 C984,308.4 986,308.8 988,309.1 C990,309.4 992,309.8 994,310.1 C996,310.3 998,310.6 1000,310.8 C1002,311.1 1004,311.4 1006,311.6 C1008,311.8 1010,311.9 1012,312.1 C1014,312.2 1016.3,312.3 1018,312.4 C1019.7,312.5 1021.3,312.5 1022,312.5"/><path d="M706,310.8 C707,310.8 710,310.8 712,310.7 C714,310.6 716,310.6 718,310.4 C720,310.3 722,310.2 724,310.1 C726,309.9 728,309.8 730,309.6 C732,309.4 734,309.2 736,309 C738,308.7 740,308.4 742,308.1 C744,307.8 746,307.5 748,307.2 C750,306.8 752,306.5 754,306.2 C756,305.9 758,305.5 760,305.2 C762,304.8 764,304.4 766,304 C768,303.7 770,303.3 772,302.9 C774,302.5 776,302.2 778,301.8 C780,301.5 782,301.1 784,300.8 C786,300.5 788,300.1 790,299.8 C792,299.6 794,299.3 796,299 C798,298.8 800,298.7 802,298.5 C804,298.4 806,298.4 808,298.4 C810,298.3 812,298.2 814,298.2 C816,298.1 818,298 820,298 C822,298 824,298 826,297.9 C828,297.9 830,297.9 832,297.9 C834,297.9 836,297.8 838,297.8 C840,297.8 842,297.8 844,297.8 C846,297.8 848,297.8 850,297.9 C852,297.9 854,297.9 856,297.9 C858,297.9 860,297.9 862,297.9 C864,298 866,298 868,298 C870,298 872,298.1 874,298.1 C876,298.1 878,298.1 880,298.2 C882,298.2 884,298.2 886,298.3 C888,298.3 890,298.4 892,298.4 C894,298.4 896,298.4 898,298.5 C900,298.6 902,298.8 904,298.9 C906,299.1 908,299.3 910,299.4 C912,299.6 914,299.8 916,300 C918,300.2 920,300.3 922,300.5 C924,300.7 926,301 928,301.2 C930,301.4 932,301.6 934,301.9 C936,302.2 938,302.5 940,302.8 C942,303.1 944,303.5 946,303.8 C948,304.2 950,304.6 952,305 C954,305.4 956,305.8 958,306.2 C960,306.6 962,306.9 964,307.2 C966,307.6 968,307.9 970,308.2 C972,308.5 974,308.8 976,309.1 C978,309.4 980,309.7 982,309.9 C984,310.2 986,310.4 988,310.7 C990,310.9 992,311.1 994,311.3 C996,311.5 998,311.7 1000,311.9 C1002,312 1004,312.3 1006,312.4 C1008,312.6 1010,312.7 1012,312.7 C1014,312.8 1016.3,312.9 1018,313 C1019.7,313 1021.3,313 1022,313.1"/><path d="M706,311.3 C707,311.3 710,311.3 712,311.2 C714,311.2 716,311.1 718,311.1 C720,311 722,310.9 724,310.8 C726,310.8 728,310.7 730,310.6 C732,310.4 734,310.3 736,310.2 C738,310 740,309.8 742,309.6 C744,309.4 746,309.2 748,309 C750,308.8 752,308.6 754,308.4 C756,308.1 758,307.9 760,307.7 C762,307.5 764,307.2 766,306.9 C768,306.7 770,306.5 772,306.2 C774,306 776,305.7 778,305.5 C780,305.3 782,305 784,304.8 C786,304.6 788,304.4 790,304.2 C792,304 794,303.8 796,303.7 C798,303.5 800,303.4 802,303.3 C804,303.3 806,303.3 808,303.3 C810,303.3 812,303.3 814,303.2 C816,303.2 818,303.2 820,303.2 C822,303.2 824,303.2 826,303.2 C828,303.2 830,303.2 832,303.2 C834,303.3 836,303.3 838,303.3 C840,303.3 842,303.3 844,303.3 C846,303.4 848,303.4 850,303.4 C852,303.4 854,303.5 856,303.5 C858,303.5 860,303.6 862,303.6 C864,303.6 866,303.6 868,303.7 C870,303.7 872,303.7 874,303.7 C876,303.8 878,303.8 880,303.8 C882,303.8 884,303.9 886,303.9 C888,303.9 890,303.9 892,304 C894,304 896,304 898,304 C900,304.1 902,304.2 904,304.3 C906,304.5 908,304.6 910,304.8 C912,304.9 914,305 916,305.2 C918,305.3 920,305.5 922,305.6 C924,305.8 926,306 928,306.1 C930,306.3 932,306.5 934,306.7 C936,306.9 938,307.1 940,307.3 C942,307.6 944,307.8 946,308.1 C948,308.3 950,308.6 952,308.8 C954,309.1 956,309.4 958,309.7 C960,309.9 962,310.1 964,310.3 C966,310.5 968,310.7 970,310.9 C972,311 974,311.2 976,311.4 C978,311.5 980,311.7 982,311.8 C984,312 986,312.1 988,312.3 C990,312.4 992,312.5 994,312.6 C996,312.7 998,312.8 1000,312.9 C1002,313 1004,313.2 1006,313.3 C1008,313.4 1010,313.4 1012,313.4 C1014,313.5 1016.3,313.5 1018,313.6 C1019.7,313.6 1021.3,313.6 1022,313.6"/><path d="M706,311.8 C707,311.8 710,311.8 712,311.8 C714,311.8 716,311.7 718,311.7 C720,311.7 722,311.7 724,311.6 C726,311.6 728,311.6 730,311.5 C732,311.5 734,311.5 736,311.4 C738,311.3 740,311.2 742,311.1 C744,311 746,310.9 748,310.8 C750,310.7 752,310.6 754,310.5 C756,310.4 758,310.3 760,310.2 C762,310.1 764,310 766,309.9 C768,309.7 770,309.6 772,309.5 C774,309.4 776,309.3 778,309.2 C780,309.1 782,309 784,308.9 C786,308.8 788,308.7 790,308.6 C792,308.5 794,308.4 796,308.3 C798,308.2 800,308.2 802,308.1 C804,308.1 806,308.2 808,308.2 C810,308.3 812,308.3 814,308.3 C816,308.3 818,308.4 820,308.4 C822,308.4 824,308.5 826,308.5 C828,308.5 830,308.6 832,308.6 C834,308.7 836,308.7 838,308.7 C840,308.8 842,308.8 844,308.8 C846,308.9 848,308.9 850,309 C852,309 854,309.1 856,309.1 C858,309.1 860,309.2 862,309.2 C864,309.2 866,309.3 868,309.3 C870,309.3 872,309.4 874,309.4 C876,309.4 878,309.5 880,309.5 C882,309.5 884,309.5 886,309.5 C888,309.5 890,309.5 892,309.5 C894,309.5 896,309.5 898,309.5 C900,309.6 902,309.7 904,309.8 C906,309.8 908,310 910,310.1 C912,310.2 914,310.3 916,310.4 C918,310.5 920,310.6 922,310.7 C924,310.8 926,311 928,311.1 C930,311.2 932,311.3 934,311.5 C936,311.6 938,311.7 940,311.9 C942,312 944,312.1 946,312.3 C948,312.4 950,312.6 952,312.7 C954,312.9 956,313.1 958,313.2 C960,313.3 962,313.3 964,313.4 C966,313.5 968,313.5 970,313.5 C972,313.6 974,313.6 976,313.7 C978,313.7 980,313.7 982,313.8 C984,313.8 986,313.8 988,313.8 C990,313.9 992,313.9 994,313.9 C996,313.9 998,313.9 1000,313.9 C1002,314 1004,314.1 1006,314.1 C1008,314.1 1010,314.1 1012,314.1 C1014,314.1 1016.3,314.1 1018,314.2 C1019.7,314.2 1021.3,314.1 1022,314.1"/><path d="M706,312.2 C707,312.3 710,312.3 712,312.3 C714,312.3 716,312.3 718,312.4 C720,312.4 722,312.4 724,312.4 C726,312.4 728,312.4 730,312.5 C732,312.5 734,312.6 736,312.6 C738,312.6 740,312.6 742,312.6 C744,312.6 746,312.6 748,312.7 C750,312.7 752,312.7 754,312.7 C756,312.7 758,312.7 760,312.8 C762,312.8 764,312.8 766,312.8 C768,312.8 770,312.8 772,312.8 C774,312.8 776,312.9 778,312.9 C780,312.9 782,312.9 784,312.9 C786,312.9 788,312.9 790,312.9 C792,312.9 794,312.9 796,312.9 C798,312.9 800,312.9 802,313 C804,313 806,313.1 808,313.2 C810,313.2 812,313.3 814,313.4 C816,313.5 818,313.5 820,313.6 C822,313.7 824,313.7 826,313.8 C828,313.9 830,313.9 832,314 C834,314 836,314.1 838,314.2 C840,314.2 842,314.3 844,314.4 C846,314.4 848,314.5 850,314.5 C852,314.6 854,314.6 856,314.7 C858,314.8 860,314.8 862,314.8 C864,314.9 866,314.9 868,314.9 C870,315 872,315 874,315 C876,315.1 878,315.1 880,315.1 C882,315.1 884,315.1 886,315.1 C888,315.1 890,315.1 892,315.1 C894,315.1 896,315 898,315.1 C900,315.1 902,315.1 904,315.2 C906,315.2 908,315.3 910,315.4 C912,315.4 914,315.5 916,315.6 C918,315.7 920,315.7 922,315.8 C924,315.9 926,315.9 928,316 C930,316.1 932,316.2 934,316.2 C936,316.3 938,316.4 940,316.4 C942,316.5 944,316.5 946,316.5 C948,316.5 950,316.6 952,316.6 C954,316.6 956,316.7 958,316.7 C960,316.6 962,316.6 964,316.5 C966,316.4 968,316.3 970,316.2 C972,316.1 974,316 976,315.9 C978,315.9 980,315.8 982,315.7 C984,315.6 986,315.5 988,315.4 C990,315.3 992,315.2 994,315.2 C996,315.1 998,315 1000,314.9 C1002,314.9 1004,315 1006,314.9 C1008,314.9 1010,314.9 1012,314.8 C1014,314.8 1016.3,314.8 1018,314.7 C1019.7,314.7 1021.3,314.7 1022,314.7"/><path d="M706,312.7 C707,312.7 710,312.8 712,312.8 C714,312.9 716,312.9 718,313 C720,313 722,313.1 724,313.2 C726,313.2 728,313.3 730,313.4 C732,313.6 734,313.7 736,313.8 C738,313.9 740,314 742,314.1 C744,314.2 746,314.4 748,314.5 C750,314.6 752,314.7 754,314.9 C756,315 758,315.1 760,315.3 C762,315.4 764,315.5 766,315.7 C768,315.8 770,316 772,316.1 C774,316.3 776,316.4 778,316.6 C780,316.7 782,316.9 784,317 C786,317.1 788,317.2 790,317.3 C792,317.4 794,317.5 796,317.5 C798,317.6 800,317.7 802,317.8 C804,317.9 806,318 808,318.1 C810,318.2 812,318.3 814,318.5 C816,318.6 818,318.7 820,318.8 C822,318.9 824,319 826,319.1 C828,319.2 830,319.3 832,319.4 C834,319.4 836,319.5 838,319.6 C840,319.7 842,319.8 844,319.9 C846,319.9 848,320 850,320.1 C852,320.2 854,320.2 856,320.3 C858,320.4 860,320.4 862,320.5 C864,320.5 866,320.5 868,320.6 C870,320.6 872,320.6 874,320.7 C876,320.7 878,320.8 880,320.8 C882,320.8 884,320.7 886,320.7 C888,320.7 890,320.7 892,320.6 C894,320.6 896,320.6 898,320.6 C900,320.6 902,320.6 904,320.6 C906,320.6 908,320.7 910,320.7 C912,320.7 914,320.8 916,320.8 C918,320.8 920,320.8 922,320.9 C924,320.9 926,320.9 928,321 C930,321 932,321 934,321 C936,321 938,321 940,321 C942,320.9 944,320.8 946,320.7 C948,320.7 950,320.6 952,320.5 C954,320.4 956,320.3 958,320.2 C960,320 962,319.8 964,319.6 C966,319.4 968,319.1 970,318.9 C972,318.7 974,318.4 976,318.2 C978,318 980,317.8 982,317.6 C984,317.4 986,317.2 988,317 C990,316.8 992,316.6 994,316.4 C996,316.3 998,316.1 1000,316 C1002,315.9 1004,315.9 1006,315.8 C1008,315.7 1010,315.6 1012,315.5 C1014,315.5 1016.3,315.4 1018,315.3 C1019.7,315.3 1021.3,315.3 1022,315.2"/><path d="M706,313.2 C707,313.2 710,313.3 712,313.4 C714,313.4 716,313.5 718,313.6 C720,313.7 722,313.8 724,313.9 C726,314.1 728,314.2 730,314.4 C732,314.6 734,314.8 736,315 C738,315.2 740,315.4 742,315.6 C744,315.8 746,316.1 748,316.3 C750,316.5 752,316.8 754,317 C756,317.3 758,317.6 760,317.8 C762,318.1 764,318.3 766,318.6 C768,318.9 770,319.2 772,319.4 C774,319.7 776,320 778,320.3 C780,320.5 782,320.8 784,321 C786,321.3 788,321.5 790,321.7 C792,321.8 794,322 796,322.2 C798,322.3 800,322.4 802,322.6 C804,322.7 806,322.9 808,323 C810,323.2 812,323.4 814,323.5 C816,323.7 818,323.9 820,324 C822,324.1 824,324.2 826,324.4 C828,324.5 830,324.6 832,324.7 C834,324.8 836,325 838,325.1 C840,325.2 842,325.3 844,325.4 C846,325.5 848,325.6 850,325.6 C852,325.7 854,325.8 856,325.9 C858,326 860,326.1 862,326.1 C864,326.2 866,326.2 868,326.2 C870,326.3 872,326.3 874,326.3 C876,326.4 878,326.4 880,326.4 C882,326.4 884,326.4 886,326.3 C888,326.3 890,326.2 892,326.2 C894,326.2 896,326.1 898,326.1 C900,326.1 902,326 904,326 C906,326 908,326 910,326 C912,326 914,326 916,326 C918,326 920,326 922,326 C924,325.9 926,325.9 928,325.9 C930,325.9 932,325.9 934,325.8 C936,325.7 938,325.6 940,325.5 C942,325.4 944,325.2 946,325 C948,324.8 950,324.6 952,324.3 C954,324.1 956,323.9 958,323.7 C960,323.4 962,323 964,322.7 C966,322.3 968,321.9 970,321.6 C972,321.2 974,320.9 976,320.5 C978,320.2 980,319.8 982,319.5 C984,319.2 986,318.9 988,318.6 C990,318.3 992,318 994,317.7 C996,317.5 998,317.2 1000,317 C1002,316.8 1004,316.8 1006,316.6 C1008,316.5 1010,316.3 1012,316.2 C1014,316.1 1016.3,316 1018,315.9 C1019.7,315.9 1021.3,315.8 1022,315.8"/><path d="M706,313.7 C707,313.7 710,313.8 712,313.9 C714,314 716,314.1 718,314.3 C720,314.4 722,314.5 724,314.7 C726,314.9 728,315.1 730,315.4 C732,315.6 734,315.9 736,316.2 C738,316.5 740,316.8 742,317.1 C744,317.4 746,317.8 748,318.1 C750,318.5 752,318.8 754,319.2 C756,319.6 758,320 760,320.3 C762,320.7 764,321.1 766,321.5 C768,321.9 770,322.3 772,322.7 C774,323.1 776,323.6 778,324 C780,324.4 782,324.7 784,325.1 C786,325.4 788,325.7 790,326 C792,326.3 794,326.6 796,326.8 C798,327 800,327.2 802,327.4 C804,327.6 806,327.8 808,328 C810,328.2 812,328.4 814,328.6 C816,328.8 818,329 820,329.2 C822,329.4 824,329.5 826,329.6 C828,329.8 830,329.9 832,330.1 C834,330.2 836,330.4 838,330.5 C840,330.7 842,330.8 844,330.9 C846,331 848,331.1 850,331.2 C852,331.3 854,331.4 856,331.5 C858,331.6 860,331.7 862,331.8 C864,331.8 866,331.8 868,331.9 C870,331.9 872,331.9 874,332 C876,332 878,332.1 880,332.1 C882,332.1 884,332 886,331.9 C888,331.9 890,331.8 892,331.8 C894,331.7 896,331.6 898,331.6 C900,331.5 902,331.5 904,331.5 C906,331.4 908,331.4 910,331.3 C912,331.3 914,331.2 916,331.2 C918,331.2 920,331.1 922,331 C924,331 926,330.9 928,330.8 C930,330.8 932,330.7 934,330.6 C936,330.4 938,330.3 940,330.1 C942,329.8 944,329.5 946,329.2 C948,328.9 950,328.6 952,328.2 C954,327.9 956,327.6 958,327.2 C960,326.7 962,326.2 964,325.8 C966,325.3 968,324.7 970,324.2 C972,323.8 974,323.3 976,322.8 C978,322.3 980,321.9 982,321.4 C984,321 986,320.5 988,320.1 C990,319.7 992,319.4 994,319 C996,318.7 998,318.3 1000,318 C1002,317.8 1004,317.6 1006,317.5 C1008,317.3 1010,317.1 1012,316.9 C1014,316.8 1016.3,316.6 1018,316.5 C1019.7,316.4 1021.3,316.4 1022,316.3"/><path d="M706,314.1 C707,314.2 710,314.3 712,314.4 C714,314.6 716,314.7 718,314.9 C720,315.1 722,315.3 724,315.5 C726,315.7 728,316 730,316.3 C732,316.7 734,317 736,317.4 C738,317.8 740,318.2 742,318.6 C744,319 746,319.5 748,320 C750,320.4 752,320.9 754,321.4 C756,321.9 758,322.4 760,322.9 C762,323.4 764,323.9 766,324.4 C768,325 770,325.5 772,326 C774,326.6 776,327.2 778,327.7 C780,328.2 782,328.7 784,329.1 C786,329.6 788,330 790,330.4 C792,330.8 794,331.1 796,331.4 C798,331.7 800,331.9 802,332.2 C804,332.4 806,332.7 808,332.9 C810,333.2 812,333.4 814,333.7 C816,333.9 818,334.2 820,334.4 C822,334.6 824,334.8 826,334.9 C828,335.1 830,335.3 832,335.5 C834,335.6 836,335.8 838,336 C840,336.1 842,336.3 844,336.4 C846,336.5 848,336.6 850,336.8 C852,336.9 854,337 856,337.1 C858,337.2 860,337.3 862,337.4 C864,337.5 866,337.5 868,337.5 C870,337.5 872,337.6 874,337.6 C876,337.7 878,337.8 880,337.8 C882,337.7 884,337.6 886,337.5 C888,337.5 890,337.4 892,337.3 C894,337.2 896,337.2 898,337.1 C900,337 902,337 904,336.9 C906,336.8 908,336.7 910,336.6 C912,336.6 914,336.5 916,336.4 C918,336.3 920,336.2 922,336.1 C924,336 926,335.9 928,335.8 C930,335.7 932,335.5 934,335.3 C936,335.2 938,334.9 940,334.6 C942,334.3 944,333.9 946,333.4 C948,333 950,332.6 952,332.1 C954,331.6 956,331.2 958,330.6 C960,330.1 962,329.5 964,328.8 C966,328.2 968,327.6 970,326.9 C972,326.3 974,325.7 976,325.1 C978,324.5 980,323.9 982,323.4 C984,322.8 986,322.2 988,321.7 C990,321.2 992,320.7 994,320.3 C996,319.8 998,319.4 1000,319.1 C1002,318.7 1004,318.5 1006,318.3 C1008,318.1 1010,317.8 1012,317.6 C1014,317.4 1016.3,317.2 1018,317.1 C1019.7,317 1021.3,316.9 1022,316.9"/><path d="M706,314.6 C707,314.7 710,314.8 712,315 C714,315.1 716,315.3 718,315.5 C720,315.7 722,316 724,316.3 C726,316.6 728,316.9 730,317.3 C732,317.7 734,318.2 736,318.6 C738,319.1 740,319.6 742,320.1 C744,320.6 746,321.2 748,321.8 C750,322.4 752,322.9 754,323.5 C756,324.1 758,324.8 760,325.4 C762,326 764,326.7 766,327.3 C768,328 770,328.7 772,329.4 C774,330 776,330.7 778,331.4 C780,332 782,332.6 784,333.2 C786,333.7 788,334.3 790,334.7 C792,335.2 794,335.7 796,336 C798,336.4 800,336.7 802,337 C804,337.3 806,337.6 808,337.8 C810,338.1 812,338.4 814,338.7 C816,339 818,339.4 820,339.6 C822,339.8 824,340 826,340.2 C828,340.4 830,340.6 832,340.8 C834,341 836,341.3 838,341.4 C840,341.6 842,341.8 844,341.9 C846,342.1 848,342.2 850,342.3 C852,342.4 854,342.6 856,342.7 C858,342.8 860,342.9 862,343 C864,343.1 866,343.1 868,343.1 C870,343.2 872,343.2 874,343.3 C876,343.3 878,343.4 880,343.4 C882,343.4 884,343.2 886,343.1 C888,343.1 890,343 892,342.9 C894,342.8 896,342.7 898,342.6 C900,342.5 902,342.4 904,342.3 C906,342.2 908,342.1 910,342 C912,341.8 914,341.7 916,341.6 C918,341.5 920,341.4 922,341.2 C924,341.1 926,340.9 928,340.7 C930,340.5 932,340.4 934,340.1 C936,339.9 938,339.6 940,339.1 C942,338.7 944,338.2 946,337.7 C948,337.1 950,336.6 952,336 C954,335.4 956,334.8 958,334.1 C960,333.5 962,332.7 964,331.9 C966,331.2 968,330.4 970,329.6 C972,328.8 974,328.1 976,327.4 C978,326.7 980,326 982,325.3 C984,324.6 986,323.9 988,323.3 C990,322.7 992,322.1 994,321.6 C996,321 998,320.5 1000,320.1 C1002,319.7 1004,319.4 1006,319.1 C1008,318.8 1010,318.5 1012,318.3 C1014,318.1 1016.3,317.9 1018,317.7 C1019.7,317.6 1021.3,317.5 1022,317.4"/><path d="M706,315.1 C707,315.1 710,315.3 712,315.5 C714,315.7 716,315.9 718,316.2 C720,316.4 722,316.7 724,317 C726,317.4 728,317.8 730,318.3 C732,318.7 734,319.3 736,319.8 C738,320.4 740,321 742,321.6 C744,322.2 746,322.9 748,323.6 C750,324.3 752,325 754,325.7 C756,326.4 758,327.2 760,327.9 C762,328.7 764,329.5 766,330.3 C768,331 770,331.9 772,332.7 C774,333.5 776,334.3 778,335.1 C780,335.8 782,336.5 784,337.2 C786,337.9 788,338.5 790,339.1 C792,339.7 794,340.2 796,340.6 C798,341.1 800,341.4 802,341.8 C804,342.1 806,342.4 808,342.8 C810,343.1 812,343.5 814,343.8 C816,344.1 818,344.5 820,344.8 C822,345.1 824,345.3 826,345.5 C828,345.7 830,346 832,346.2 C834,346.4 836,346.7 838,346.9 C840,347.1 842,347.3 844,347.4 C846,347.6 848,347.7 850,347.9 C852,348 854,348.2 856,348.3 C858,348.4 860,348.6 862,348.7 C864,348.7 866,348.7 868,348.8 C870,348.8 872,348.9 874,348.9 C876,349 878,349.1 880,349.1 C882,349 884,348.9 886,348.8 C888,348.6 890,348.5 892,348.4 C894,348.3 896,348.2 898,348.1 C900,348 902,347.9 904,347.7 C906,347.6 908,347.4 910,347.3 C912,347.1 914,347 916,346.8 C918,346.6 920,346.5 922,346.3 C924,346.1 926,345.9 928,345.7 C930,345.4 932,345.2 934,344.9 C936,344.6 938,344.2 940,343.7 C942,343.2 944,342.5 946,341.9 C948,341.3 950,340.5 952,339.8 C954,339.1 956,338.4 958,337.6 C960,336.8 962,335.9 964,335 C966,334.1 968,333.2 970,332.3 C972,331.4 974,330.5 976,329.7 C978,328.8 980,328 982,327.2 C984,326.4 986,325.6 988,324.9 C990,324.1 992,323.5 994,322.8 C996,322.2 998,321.6 1000,321.1 C1002,320.6 1004,320.3 1006,320 C1008,319.6 1010,319.3 1012,319 C1014,318.7 1016.3,318.5 1018,318.3 C1019.7,318.1 1021.3,318 1022,318"/><path d="M706,315.5 C707,315.6 710,315.8 712,316.1 C714,316.3 716,316.5 718,316.8 C720,317.1 722,317.4 724,317.8 C726,318.2 728,318.7 730,319.2 C732,319.8 734,320.4 736,321 C738,321.7 740,322.4 742,323.1 C744,323.8 746,324.7 748,325.5 C750,326.3 752,327 754,327.9 C756,328.7 758,329.6 760,330.5 C762,331.4 764,332.3 766,333.2 C768,334.1 770,335 772,336 C774,336.9 776,337.9 778,338.7 C780,339.6 782,340.5 784,341.3 C786,342.1 788,342.8 790,343.5 C792,344.1 794,344.8 796,345.3 C798,345.8 800,346.2 802,346.6 C804,347 806,347.3 808,347.7 C810,348.1 812,348.5 814,348.9 C816,349.2 818,349.7 820,350 C822,350.3 824,350.5 826,350.8 C828,351 830,351.3 832,351.6 C834,351.8 836,352.1 838,352.3 C840,352.6 842,352.7 844,352.9 C846,353.1 848,353.3 850,353.4 C852,353.6 854,353.8 856,353.9 C858,354.1 860,354.2 862,354.3 C864,354.4 866,354.4 868,354.4 C870,354.5 872,354.5 874,354.6 C876,354.6 878,354.8 880,354.7 C882,354.7 884,354.5 886,354.4 C888,354.2 890,354.1 892,354 C894,353.9 896,353.8 898,353.6 C900,353.5 902,353.3 904,353.1 C906,353 908,352.8 910,352.6 C912,352.4 914,352.2 916,352 C918,351.8 920,351.6 922,351.4 C924,351.1 926,350.9 928,350.6 C930,350.3 932,350.1 934,349.7 C936,349.3 938,348.8 940,348.2 C942,347.6 944,346.9 946,346.1 C948,345.4 950,344.5 952,343.7 C954,342.9 956,342.1 958,341.1 C960,340.2 962,339.1 964,338.1 C966,337.1 968,336 970,335 C972,333.9 974,332.9 976,332 C978,331 980,330 982,329.1 C984,328.2 986,327.3 988,326.4 C990,325.6 992,324.8 994,324.1 C996,323.4 998,322.7 1000,322.1 C1002,321.6 1004,321.2 1006,320.8 C1008,320.4 1010,320 1012,319.7 C1014,319.4 1016.3,319.1 1018,318.9 C1019.7,318.7 1021.3,318.6 1022,318.5"/><path d="M706,316 C707,316.1 710,316.3 712,316.6 C714,316.8 716,317.1 718,317.4 C720,317.8 722,318.1 724,318.6 C726,319.1 728,319.6 730,320.2 C732,320.8 734,321.5 736,322.2 C738,323 740,323.8 742,324.6 C744,325.4 746,326.4 748,327.3 C750,328.2 752,329.1 754,330 C756,331 758,332 760,333 C762,334 764,335 766,336.1 C768,337.1 770,338.2 772,339.3 C774,340.3 776,341.4 778,342.4 C780,343.5 782,344.4 784,345.3 C786,346.2 788,347.1 790,347.8 C792,348.6 794,349.3 796,349.9 C798,350.5 800,350.9 802,351.4 C804,351.8 806,352.2 808,352.7 C810,353.1 812,353.5 814,353.9 C816,354.4 818,354.8 820,355.2 C822,355.6 824,355.8 826,356.1 C828,356.4 830,356.6 832,356.9 C834,357.2 836,357.5 838,357.8 C840,358 842,358.2 844,358.4 C846,358.6 848,358.8 850,359 C852,359.2 854,359.4 856,359.5 C858,359.7 860,359.8 862,359.9 C864,360 866,360 868,360.1 C870,360.1 872,360.2 874,360.2 C876,360.3 878,360.4 880,360.4 C882,360.3 884,360.1 886,360 C888,359.8 890,359.7 892,359.6 C894,359.4 896,359.3 898,359.2 C900,359 902,358.8 904,358.6 C906,358.4 908,358.1 910,357.9 C912,357.7 914,357.5 916,357.2 C918,357 920,356.7 922,356.5 C924,356.2 926,355.9 928,355.5 C930,355.2 932,354.9 934,354.5 C936,354 938,353.5 940,352.8 C942,352.1 944,351.2 946,350.3 C948,349.5 950,348.5 952,347.6 C954,346.6 956,345.7 958,344.6 C960,343.6 962,342.4 964,341.2 C966,340 968,338.8 970,337.6 C972,336.5 974,335.3 976,334.2 C978,333.1 980,332.1 982,331 C984,330 986,329 988,328 C990,327.1 992,326.2 994,325.4 C996,324.6 998,323.8 1000,323.2 C1002,322.6 1004,322.1 1006,321.6 C1008,321.2 1010,320.8 1012,320.4 C1014,320 1016.3,319.7 1018,319.5 C1019.7,319.3 1021.3,319.1 1022,319"/><path d="M706,316.5 C707,316.6 710,316.9 712,317.1 C714,317.4 716,317.7 718,318.1 C720,318.4 722,318.9 724,319.4 C726,319.9 728,320.5 730,321.2 C732,321.9 734,322.6 736,323.4 C738,324.3 740,325.1 742,326.1 C744,327 746,328.1 748,329.1 C750,330.1 752,331.1 754,332.2 C756,333.3 758,334.4 760,335.5 C762,336.7 764,337.8 766,339 C768,340.2 770,341.4 772,342.6 C774,343.8 776,345 778,346.1 C780,347.3 782,348.4 784,349.4 C786,350.4 788,351.3 790,352.2 C792,353 794,353.8 796,354.5 C798,355.2 800,355.7 802,356.2 C804,356.7 806,357.1 808,357.6 C810,358.1 812,358.5 814,359 C816,359.5 818,360 820,360.4 C822,360.8 824,361 826,361.3 C828,361.7 830,362 832,362.3 C834,362.6 836,363 838,363.2 C840,363.5 842,363.7 844,363.9 C846,364.2 848,364.3 850,364.5 C852,364.7 854,364.9 856,365.1 C858,365.3 860,365.5 862,365.6 C864,365.7 866,365.7 868,365.7 C870,365.8 872,365.8 874,365.9 C876,365.9 878,366.1 880,366 C882,366 884,365.7 886,365.6 C888,365.4 890,365.3 892,365.1 C894,365 896,364.9 898,364.7 C900,364.5 902,364.2 904,364 C906,363.7 908,363.5 910,363.2 C912,362.9 914,362.7 916,362.4 C918,362.1 920,361.9 922,361.5 C924,361.2 926,360.9 928,360.5 C930,360.1 932,359.8 934,359.2 C936,358.7 938,358.1 940,357.3 C942,356.6 944,355.6 946,354.6 C948,353.6 950,352.5 952,351.5 C954,350.4 956,349.3 958,348.1 C960,346.9 962,345.6 964,344.3 C966,343 968,341.6 970,340.3 C972,339 974,337.8 976,336.5 C978,335.3 980,334.1 982,333 C984,331.8 986,330.6 988,329.6 C990,328.6 992,327.6 994,326.7 C996,325.8 998,324.9 1000,324.2 C1002,323.5 1004,323 1006,322.5 C1008,322 1010,321.5 1012,321.1 C1014,320.7 1016.3,320.3 1018,320.1 C1019.7,319.8 1021.3,319.7 1022,319.6"/><path d="M706,317 C707,317.1 710,317.4 712,317.7 C714,317.9 716,318.3 718,318.7 C720,319.1 722,319.6 724,320.1 C726,320.7 728,321.4 730,322.1 C732,322.9 734,323.7 736,324.7 C738,325.6 740,326.5 742,327.6 C744,328.6 746,329.8 748,330.9 C750,332.1 752,333.2 754,334.4 C756,335.6 758,336.8 760,338.1 C762,339.3 764,340.6 766,341.9 C768,343.2 770,344.6 772,345.9 C774,347.2 776,348.6 778,349.8 C780,351.1 782,352.3 784,353.4 C786,354.5 788,355.6 790,356.5 C792,357.5 794,358.4 796,359.1 C798,359.9 800,360.4 802,361 C804,361.6 806,362 808,362.5 C810,363 812,363.6 814,364.1 C816,364.6 818,365.2 820,365.6 C822,366 824,366.3 826,366.6 C828,367 830,367.3 832,367.7 C834,368 836,368.4 838,368.7 C840,369 842,369.2 844,369.5 C846,369.7 848,369.9 850,370.1 C852,370.3 854,370.5 856,370.7 C858,370.9 860,371.1 862,371.2 C864,371.3 866,371.3 868,371.4 C870,371.4 872,371.5 874,371.5 C876,371.6 878,371.7 880,371.7 C882,371.6 884,371.4 886,371.2 C888,371 890,370.8 892,370.7 C894,370.5 896,370.4 898,370.2 C900,370 902,369.7 904,369.4 C906,369.1 908,368.8 910,368.5 C912,368.2 914,367.9 916,367.6 C918,367.3 920,367 922,366.6 C924,366.3 926,365.9 928,365.4 C930,365 932,364.6 934,364 C936,363.4 938,362.7 940,361.9 C942,361 944,359.9 946,358.8 C948,357.7 950,356.5 952,355.3 C954,354.1 956,352.9 958,351.6 C960,350.3 962,348.8 964,347.4 C966,345.9 968,344.4 970,343 C972,341.6 974,340.2 976,338.8 C978,337.5 980,336.1 982,334.9 C984,333.6 986,332.3 988,331.2 C990,330 992,328.9 994,328 C996,327 998,326 1000,325.2 C1002,324.5 1004,323.9 1006,323.3 C1008,322.7 1010,322.2 1012,321.8 C1014,321.3 1016.3,320.9 1018,320.7 C1019.7,320.4 1021.3,320.2 1022,320.1"/><path d="M706,317.4 C707,317.6 710,317.9 712,318.2 C714,318.5 716,318.9 718,319.3 C720,319.8 722,320.3 724,320.9 C726,321.5 728,322.3 730,323.1 C732,323.9 734,324.9 736,325.9 C738,326.9 740,327.9 742,329.1 C744,330.2 746,331.5 748,332.8 C750,334 752,335.2 754,336.5 C756,337.8 758,339.2 760,340.6 C762,342 764,343.4 766,344.8 C768,346.3 770,347.7 772,349.2 C774,350.6 776,352.1 778,353.5 C780,354.9 782,356.2 784,357.5 C786,358.7 788,359.9 790,360.9 C792,362 794,362.9 796,363.8 C798,364.6 800,365.2 802,365.8 C804,366.4 806,366.9 808,367.5 C810,368 812,368.6 814,369.1 C816,369.7 818,370.3 820,370.8 C822,371.3 824,371.5 826,371.9 C828,372.3 830,372.7 832,373 C834,373.4 836,373.8 838,374.1 C840,374.5 842,374.7 844,375 C846,375.2 848,375.4 850,375.6 C852,375.9 854,376.1 856,376.3 C858,376.5 860,376.7 862,376.8 C864,376.9 866,376.9 868,377 C870,377.1 872,377.1 874,377.2 C876,377.2 878,377.4 880,377.3 C882,377.3 884,377 886,376.8 C888,376.6 890,376.4 892,376.2 C894,376.1 896,375.9 898,375.7 C900,375.5 902,375.1 904,374.8 C906,374.5 908,374.2 910,373.8 C912,373.5 914,373.2 916,372.8 C918,372.5 920,372.1 922,371.7 C924,371.3 926,370.8 928,370.4 C930,369.9 932,369.4 934,368.8 C936,368.1 938,367.4 940,366.4 C942,365.5 944,364.2 946,363 C948,361.8 950,360.5 952,359.2 C954,357.9 956,356.6 958,355.1 C960,353.7 962,352 964,350.5 C966,348.9 968,347.2 970,345.7 C972,344.1 974,342.6 976,341.1 C978,339.6 980,338.2 982,336.8 C984,335.4 986,334 988,332.8 C990,331.5 992,330.3 994,329.2 C996,328.2 998,327.1 1000,326.3 C1002,325.4 1004,324.8 1006,324.2 C1008,323.5 1010,323 1012,322.5 C1014,322 1016.3,321.6 1018,321.3 C1019.7,321 1021.3,320.8 1022,320.7"/></g></g>
<path d="M662,296.8 C665.4,296.8 677.3,297.1 682.5,296.8 C687.7,296.5 689.7,295.8 693.3,295.2 C696.9,294.6 700.6,294 704.2,293 C707.8,292 711.4,290.7 715,289.3 C718.6,287.9 722.2,286.5 725.8,284.9 C729.4,283.3 733.1,281.4 736.7,279.5 C740.3,277.6 743.6,275.4 747.5,273.5 C751.4,271.6 754.6,270.4 760,268 C765.4,265.6 773.3,261.8 780,259 C786.7,256.2 793.3,253.2 800,251 C806.7,248.8 813.3,247.3 820,246 C826.7,244.7 833.3,243.7 840,243 C846.7,242.3 853.3,241.8 860,241.6 C866.7,241.4 873.3,241.3 880,241.6 C886.7,241.9 893.3,242.4 900,243.6 C906.7,244.8 913.3,246.9 920,249 C926.7,251.1 933.3,253.5 940,256 C946.7,258.5 953.3,261.2 960,264 C966.7,266.8 972.8,269.2 980,272.5 C987.2,275.8 995.8,280.6 1003.3,284 C1010.8,287.4 1018.7,290.9 1025,293 C1031.3,295.1 1035.9,295.9 1041.3,296.8 C1046.7,297.7 1053.5,298.1 1057.5,298.5 C1061.5,298.9 1062.8,298.6 1065,299.4 C1067.2,300.2 1069.2,301.4 1070.5,303.3 C1071.8,305.2 1072.4,308.1 1072.7,311 C1073,313.9 1072.6,318 1072.1,320.7 C1071.5,323.4 1070.8,325.8 1069.4,327.2 C1068.1,328.6 1066.9,328.8 1064,329.3 C1061.1,329.8 1056.3,329.6 1052,330 C1047.7,330.4 1042.5,331 1038,332 C1033.5,333 1031.3,333.4 1025,335.8 C1018.7,338.2 1007.5,343 1000,346.5 C992.5,350 986.7,353.8 980,357 C973.3,360.2 966.7,363.4 960,366 C953.3,368.6 946.7,370.4 940,372.3 C933.3,374.2 926.7,375.9 920,377.3 C913.3,378.8 906.7,380.1 900,381 C893.3,381.9 886.7,382.8 880,383 C873.3,383.2 866.7,382.9 860,382.4 C853.3,381.9 846.7,381.1 840,380 C833.3,378.9 826.7,377.7 820,376 C813.3,374.3 806.7,372.2 800,370 C793.3,367.8 785.1,364.9 780,363 C774.9,361.1 772.8,360.1 769.2,358.6 C765.6,357.2 761.9,355.7 758.3,354.3 C754.7,352.9 751.1,351.6 747.5,350 C743.9,348.4 740.3,346.3 736.7,344.5 C733.1,342.7 729.4,340.7 725.8,339.1 C722.2,337.5 718.6,336.2 715,334.8 C711.4,333.4 707.8,332.1 704.2,331 C700.6,329.9 696.9,328.9 693.3,328.3 C689.7,327.8 687.7,327.8 682.5,327.7 C677.3,327.6 665.4,327.7 662,327.7 Z" fill="none" stroke="#1a1010" stroke-width="2.2"/>
<ellipse cx="662.2" cy="312.2" rx="3" ry="15.4" fill="#f3f2f5" stroke="#1a1010" stroke-width="2.2"/>
<rect x="837.3" y="303.5" width="66" height="40.2" fill="none" stroke="#2a0c10" stroke-width="2.8"/>
<line x1="837.3" y1="343.7" x2="617" y2="452.3" stroke="#1a1a1a" stroke-width="1.8"/>
<line x1="903.3" y1="343.7" x2="1158.3" y2="452.3" stroke="#1a1a1a" stroke-width="1.8"/>
<rect x="617" y="452.3" width="541.3" height="554.2" fill="#ffffff" stroke="#2e2a2a" stroke-width="2.8"/>
<rect x="618.2" y="564.8" width="457" height="24.6" fill="#62b3e5"/>
<rect x="1075" y="566.5" width="82" height="24.6" fill="#62b3e5"/>
<line x1="618.2" y1="564.8" x2="1075" y2="564.8" stroke="#4a7092" stroke-width="2.3"/>
<line x1="1075" y1="566.5" x2="1157" y2="566.5" stroke="#4a7092" stroke-width="2.3"/>
<line x1="618.2" y1="589.3" x2="1075" y2="589.3" stroke="#1e3447" stroke-width="2.3"/>
<line x1="1075" y1="591" x2="1157" y2="591" stroke="#1e3447" stroke-width="2.3"/>
<rect x="849.2" y="546" width="8.3" height="67" fill="#000"/>
<rect x="865.8" y="546" width="9.2" height="67" fill="#000"/>
<rect x="882.5" y="546" width="8.3" height="67" fill="#000"/>
<rect x="899" y="546" width="9.3" height="67" fill="#000"/>
<rect x="916.7" y="546" width="8.3" height="67" fill="#000"/>
<rect x="933.3" y="546" width="8.4" height="67" fill="#000"/>
<rect x="950" y="546" width="9.0" height="67" fill="#000"/>
<path d="M828.3,496.7 C829.2,497.9 832,501.6 834,504 C836,506.4 839.6,509.3 840.3,511.3 C841,513.3 838.4,514.4 838,516 C837.6,517.6 837.4,518.9 837.7,520.7 C838,522.5 838.7,525.2 840,527 C841.3,528.8 843.7,529.5 845.7,531.3 C847.8,533.1 850.9,535.5 852.3,538 C853.7,540.5 854,544.7 854.3,546" fill="none" stroke="#2a2a2a" stroke-width="1.6" stroke-linecap="round"/>
<path d="M870.3,546 C869.9,544.5 868.5,539.7 868,537 C867.5,534.3 867,532.2 867,530 C867,527.8 867.6,525 867.7,524" fill="none" stroke="#2a2a2a" stroke-width="1.6" stroke-linecap="round"/>
<path d="M874.3,517.3 C875.1,517.6 877.5,517.6 879,519.3 C880.5,521 882,524.8 883,527.3 C884,529.8 884.3,531.8 885,534 C885.7,536.2 886.7,538.7 887,540.7 C887.3,542.7 887,545.1 887,546" fill="none" stroke="#2a2a2a" stroke-width="1.6" stroke-linecap="round"/>
<path d="M903.7,546 C903.8,544 903.5,537.1 904.3,534 C905.1,530.9 907.3,529.8 908.3,527.3 C909.3,524.8 909.6,521.7 910.3,519.3 C911,516.9 911.3,514 912.3,512.7 C913.3,511.4 914.7,511.1 916.3,511.3 C917.9,511.5 920.1,512.8 921.7,514 C923.3,515.2 925.3,516.5 925.7,518.7 C926.1,520.9 925,524.8 924.3,527.3 C923.6,529.8 921.9,531.8 921.7,534 C921.5,536.2 923.1,538.7 923,540.7 C922.9,542.7 921.3,545.1 921,546" fill="none" stroke="#2a2a2a" stroke-width="1.6" stroke-linecap="round"/>
<path d="M936.3,546 C936.2,544 935.5,537.1 935.7,534 C935.9,530.9 936.3,528.8 937.7,527.3 C939.1,525.8 941.9,525.1 944.3,525.3 C946.7,525.5 950.4,526.8 952.3,528.7 C954.2,530.6 955.4,533.8 955.7,536.7 C956,539.6 954.5,544.5 954.3,546" fill="none" stroke="#2a2a2a" stroke-width="1.6" stroke-linecap="round"/>
<path d="M853.3,612 C853,613.6 852.5,619 851.7,621.7 C850.9,624.4 848.6,626.2 848.3,628.3 C848,630.4 847.8,632.8 850,634.2 C852.2,635.7 858.1,637.1 861.7,637 C865.3,636.9 869.8,635.3 871.7,633.3 C873.6,631.3 873.4,628.5 873.3,625 C873.1,621.5 871.2,614.2 870.8,612" fill="none" stroke="#2a2a2a" stroke-width="1.6" stroke-linecap="round"/>
<path d="M886.7,612 C886.7,613.9 886.4,620.3 886.7,623.3 C887,626.3 886.6,628.6 888.3,630 C890,631.4 894.5,631 896.7,631.7 C898.9,632.4 900,633.5 901.7,634.2 C903.4,634.9 905.5,636.1 906.7,635.8 C908,635.5 909.5,633.8 909.2,632.5 C908.9,631.2 906.2,629.4 905,628.3 C903.8,627.2 901.4,626.9 901.7,625.8 C902,624.7 905.9,623.2 906.7,621.7 C907.5,620.2 907.1,618.3 906.7,616.7 C906.3,615.1 904.6,612.8 904.2,612" fill="none" stroke="#2a2a2a" stroke-width="1.6" stroke-linecap="round"/>
<path d="M921.7,612 C922,613.9 923.4,619.8 923.3,623.3 C923.1,626.8 920.5,630.6 920.8,633.3 C921.1,635.9 922.6,638.1 925,639.2 C927.4,640.3 932.8,640.7 935,640 C937.2,639.3 938,637.5 938.3,635 C938.6,632.5 936.4,627.8 936.7,625 C937,622.2 939.7,620.5 940,618.3 C940.3,616.1 938.6,613 938.3,612" fill="none" stroke="#2a2a2a" stroke-width="1.6" stroke-linecap="round"/>
<path d="M955,612 C955.7,613.6 958.1,617.9 959.2,621.7 C960.3,625.5 961.6,631.1 961.7,635 C961.8,638.9 959.7,642 960,645 C960.3,648 960.5,651.1 963.3,653.3 C966.1,655.5 973.4,656.9 976.7,658.3 C980,659.7 982.5,660 983.3,661.7 C984.1,663.4 981.1,666.8 981.7,668.3 C982.3,669.8 983.9,670 986.7,670.8 C989.5,671.6 994.4,672.2 998.3,673.3 C1002.2,674.4 1005.7,676.9 1010,677.5 C1014.3,678.1 1021.8,676.8 1024.2,676.7" fill="none" stroke="#2a2a2a" stroke-width="1.6" stroke-linecap="round"/>
<circle cx="857" cy="511.3" r="15.3" fill="#e6263a" stroke="#3a0a10" stroke-width="1.6"/>
<line x1="925.1" y1="651.3" x2="925.1" y2="700" stroke="#2a2a2a" stroke-width="2.6"/>
<path d="M925.1,720.5 L932.9,695.8 L925.1,699.7 L916.9,695.8 Z" fill="#111"/>
<line x1="929" y1="880.4" x2="929" y2="930" stroke="#2a2a2a" stroke-width="2.6"/>
<path d="M929,950.5 L936.4,925.4 L929,928.9 L920.8,925.4 Z" fill="#111"/>
<line x1="836.5" y1="641.1" x2="704" y2="822" stroke="#1a1a1a" stroke-width="2.4"/>
<path d="M697.2,831.9 L704.2,807.7 L708.5,815.5 L717.4,817.8 Z" fill="#111"/>
<path d="M621,858.3 C455.5,858.3 263.5,809.4 187,683.5" fill="none" stroke="#111" stroke-width="4.3"/>
<path d="M180.2,639 L179.6,660 L177.6,680 L174.2,695.6 L187.4,684.8 L206.4,688.4 L193.5,671 L185.5,654 Z" fill="#111" stroke="#111" stroke-width="0.6" stroke-linejoin="round"/>
<line x1="25.8" y1="624.2" x2="36.8" y2="610.7" stroke="#e22c18" stroke-width="4" stroke-linecap="round"/><path d="M44.2,601.5 L39.2,614 L33.1,609.1 Z" fill="#e22c18"/>
<line x1="823.4" y1="761.6" x2="834.4" y2="747.4" stroke="#e22c18" stroke-width="4" stroke-linecap="round"/><path d="M841.9,737.7 L836.8,750.6 L830.7,745.8 Z" fill="#e22c18"/>
<line x1="815.8" y1="837.4" x2="826.7" y2="823.9" stroke="#e22c18" stroke-width="4" stroke-linecap="round"/><path d="M834.1,814.6 L829.1,827.1 L823,822.2 Z" fill="#e22c18"/>
<line x1="645" y1="860.8" x2="655.9" y2="846.7" stroke="#e22c18" stroke-width="4" stroke-linecap="round"/><path d="M663.4,837.1 L658.4,849.9 L652.2,845.1 Z" fill="#e22c18"/>
<line x1="879.6" y1="985.4" x2="890.5" y2="971.3" stroke="#e22c18" stroke-width="4" stroke-linecap="round"/><path d="M897.9,961.7 L892.9,974.5 L886.8,969.7 Z" fill="#e22c18"/>
<g opacity="0.995">
<text transform="translate(184.29,39) scale(0.7143,1)" font-family="Liberation Sans" font-weight="bold" font-size="33.4" letter-spacing="0" fill="#161616">Os</text>
<text transform="translate(349.21,244.5) scale(0.7867,1)" font-family="Liberation Sans" font-weight="bold" font-size="32.7" letter-spacing="0.83" fill="#c10f1d">Ostéocalcine</text>
<text transform="translate(826.42,210) scale(0.7909,1)" font-family="Liberation Sans" font-weight="bold" font-size="32.0" letter-spacing="0.83" fill="#161616">Muscle</text>
<text transform="translate(874.42,482) scale(0.7903,1)" font-family="Liberation Sans" font-weight="bold" font-size="30.5" letter-spacing="1.95" fill="#161616">Myofibre musculaire</text>
<text transform="translate(968.74,627.5) scale(0.6303,1)" font-family="Liberation Sans" font-weight="normal" font-size="32.0" letter-spacing="4.41" fill="#1a1a1a">GPRC6A</text>
<text transform="translate(870.90,753.4) scale(0.7993,1)" font-family="Liberation Sans" font-weight="normal" font-size="25.4" letter-spacing="2.32" fill="#1a1a1a">Absorption</text>
<text transform="translate(849.10,782.75) scale(0.8031,1)" font-family="Liberation Sans" font-weight="normal" font-size="25.4" letter-spacing="2.29" fill="#1a1a1a">des nutriments</text>
<text transform="translate(862.20,835.6) scale(0.7994,1)" font-family="Liberation Sans" font-weight="normal" font-size="24.6" letter-spacing="2.69" fill="#1a1a1a">Catabolisme</text>
<text transform="translate(859.60,864.5) scale(0.8018,1)" font-family="Liberation Sans" font-weight="normal" font-size="24.6" letter-spacing="2.13" fill="#1a1a1a">du glycogène</text>
<text transform="translate(667.57,862.25) scale(0.7148,1)" font-family="Liberation Sans" font-weight="normal" font-size="26.7" letter-spacing="3.54" fill="#1a1a1a">IL-6</text>
<text transform="translate(910.40,983.75) scale(0.6034,1)" font-family="Liberation Sans" font-weight="normal" font-size="27.2" letter-spacing="4.17" fill="#1a1a1a">ATP</text>
<text transform="translate(57.80,623.8) scale(0.8000,1)" font-family="Liberation Sans" font-weight="normal" font-size="25.4" letter-spacing="1.69" fill="#1a1a1a">Remodelage osseux</text>
</g>
</svg>
</body></html>
